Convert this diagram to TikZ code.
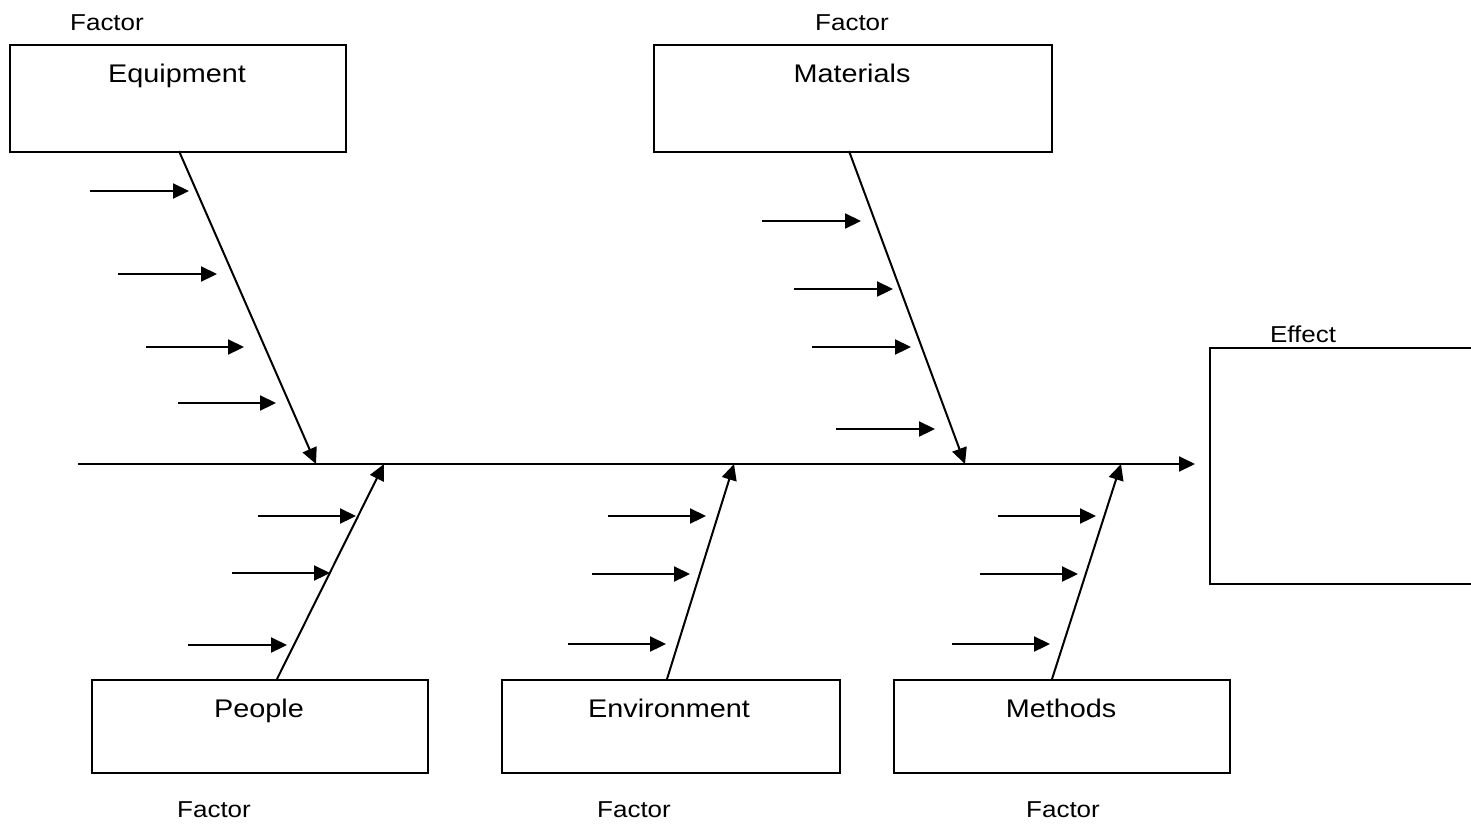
\documentclass[tikz,border=0pt]{standalone}
\usepackage{fontspec}
\setmainfont{Liberation Sans}[FakeStretch=1.13]
\usetikzlibrary{arrows.meta}
\begin{document}
\begin{tikzpicture}[x=1pt,y=-1pt,
  box/.style={draw,line width=2pt,rectangle,inner sep=0pt,anchor=north west},
  lbl/.style={anchor=base,font=\fontsize{25.5}{28}\selectfont,inner sep=0pt},
  fac/.style={anchor=base,font=\fontsize{23}{26}\selectfont,inner sep=0pt},
  bone/.style={line width=2pt,-{Triangle[length=16pt,width=15pt]}},
  tick/.style={line width=2.2pt,-{Triangle[length=16pt,width=15pt]}}]
\useasboundingbox (0,0) rectangle (1471,825);
\clip (0,0) rectangle (1471,825);
% boxes
\node[box,minimum width=336pt,minimum height=107pt] (eq) at (9,44) {};
\node[box,minimum width=398pt,minimum height=107pt] (ma) at (653,44) {};
\node[box,minimum width=336pt,minimum height=93pt] (pe) at (91,679) {};
\node[box,minimum width=338pt,minimum height=93pt] (en) at (501,679) {};
\node[box,minimum width=336pt,minimum height=93pt] (me) at (893,679) {};
\node[box,minimum width=300pt,minimum height=236pt] (ef) at (1209,347) {};
% labels
\node[lbl] (eqt) at (177,82) {Equipment};
\node[lbl] (mat) at (852,82) {Materials};
\node[lbl] (pet) at (259,717) {People};
\node[lbl] (ent) at (669,717) {Environment};
\node[lbl] (met) at (1061,717) {Methods};
\node[fac] (f1) at (107,30) {Factor};
\node[fac] (f2) at (852,30) {Factor};
\node[fac] (f3) at (214,817) {Factor};
\node[fac] (f4) at (634,817) {Factor};
\node[fac] (f5) at (1063,817) {Factor};
\node[fac] (f6) at (1303,342) {Effect};
% spine
\coordinate (s0) at (78,464);
\coordinate (s1) at (1195,464);
\draw[bone] (s0) -- (s1);
% bone ends
\coordinate (b1) at (316,464);
\coordinate (b2) at (965,464);
\coordinate (b3) at (384,464);
\coordinate (b4) at (734,464);
\coordinate (b5) at (1121,464);
\coordinate (e1) at (179,151);
\coordinate (e2) at (849,151);
\coordinate (e3) at (277,679);
\coordinate (e4) at (667,679);
\coordinate (e5) at (1052,679);
\draw[bone] (e1) -- (b1);
\draw[bone] (e2) -- (b2);
\draw[bone] (e3) -- (b3);
\draw[bone] (e4) -- (b4);
\draw[bone] (e5) -- (b5);
% ticks
\foreach \y/\a/\b [count=\i] in {191/90/189, 274/118/217, 347/146/244, 403/178/276,
  221/762/861, 289/794/893, 347/812/911, 429/836/935,
  516/258/356, 573/232/330, 645/188/287,
  516/608/706, 574/592/690, 644/568/666,
  516/998/1096, 574/980/1078, 644/952/1050}{
  \coordinate (t\i a) at (\a,\y);
  \coordinate (t\i b) at (\b,\y);
  \draw[tick] (t\i a) -- (t\i b);
}
\end{tikzpicture}
\end{document}
